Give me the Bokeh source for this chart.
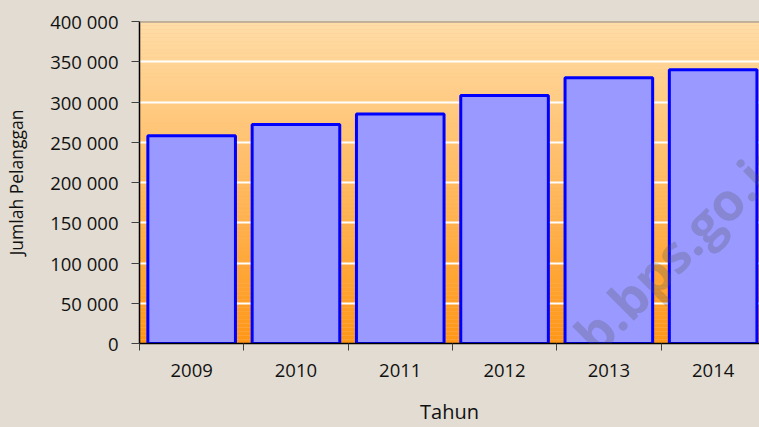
from bokeh.plotting import figure
from bokeh.models import Range1d, FixedTicker, Span, Label
from bokeh.embed import file_html
from bokeh.resources import INLINE

# ---- data ----
years = ["2009", "2010", "2011", "2012", "2013", "2014"]
pelanggan = [258000, 272000, 285000, 308000, 330000, 340000]
y_ticks = [0, 50000, 100000, 150000, 200000, 250000, 300000, 350000, 400000]

FONT = "Open Sans"
BG = "#E2DCD2"

x_pos = [i + 0.5 for i in range(len(years))]
visible_cats = 620 / 104.3

p = figure(width=759, height=427, output_backend="svg", toolbar_location=None,
           x_range=Range1d(0, visible_cats), y_range=Range1d(0, 400000),
           min_border_left=139, min_border_right=0, min_border_top=21,
           min_border_bottom=84)
p.border_fill_color = BG
p.background_fill_color = "#FFC080"
p.outline_line_color = None

# gradient background of plot area (decorative strips)
n = 80
top_c = (255, 221, 168)
bot_c = (255, 150, 22)
bottoms, tops, cols = [], [], []
for i in range(n):
    t = (i + 0.5) / n
    r = round(bot_c[0] + (top_c[0] - bot_c[0]) * t)
    g = round(bot_c[1] + (top_c[1] - bot_c[1]) * t)
    b = round(bot_c[2] + (top_c[2] - bot_c[2]) * t)
    cols.append("#%02x%02x%02x" % (r, g, b))
    bottoms.append(400000 * i / n)
    tops.append(400000 * (i + 1) / n)
strips = p.quad(left=-1, right=10, bottom=bottoms, top=tops, fill_color=cols,
                line_color=None)
strips.level = "image"

# bars
p.vbar(x=x_pos, top=pelanggan, width=0.84, bottom=0,
       fill_color="#9999FF", line_color="#0000FF", line_width=3)

# top border of plot area
p.add_layout(Span(location=400000, dimension="width", line_color="#8A8A8A",
                  line_width=2))

# axes
xa = p.xaxis[0]
xa.ticker = FixedTicker(ticks=x_pos, minor_ticks=list(range(len(years) + 1)))
xa.major_label_overrides = {x: y for x, y in zip(x_pos, years)}
xa.major_tick_out = 0
xa.major_tick_in = 0
xa.minor_tick_out = 7
xa.minor_tick_in = 0
xa.minor_tick_line_color = "#404040"
xa.axis_line_color = "black"
xa.axis_line_width = 1.5
xa.major_label_standoff = 13
xa.major_label_text_font = FONT
xa.major_label_text_font_size = "18.5px"
xa.major_label_text_color = "#111111"
xa.axis_label = "Tahun"
xa.axis_label_text_font = FONT
xa.axis_label_text_font_size = "20px"
xa.axis_label_text_font_style = "normal"
xa.axis_label_text_color = "#111111"
xa.axis_label_standoff = 18

ya = p.yaxis[0]
ya.ticker = FixedTicker(ticks=y_ticks)
ya.major_label_overrides = {v: f"{v:,}".replace(",", " ") for v in y_ticks}
ya.major_tick_out = 8
ya.major_tick_in = 0
ya.minor_tick_out = 0
ya.minor_tick_in = 0
ya.major_tick_line_color = "#404040"
ya.axis_line_color = "black"
ya.axis_line_width = 1.5
ya.major_label_standoff = 13
ya.major_label_text_font = FONT
ya.major_label_text_font_size = "18.5px"
ya.major_label_text_color = "#111111"
ya.axis_label = "Jumlah Pelanggan"
ya.axis_label_text_font = FONT
ya.axis_label_text_font_size = "17.5px"
ya.axis_label_text_font_style = "normal"
ya.axis_label_text_color = "#111111"
ya.axis_label_standoff = 19

p.xgrid.grid_line_color = None
p.ygrid.grid_line_color = "white"
p.ygrid.grid_line_width = 2

# faint diagonal watermark (anchored in data units)
p.add_layout(Label(x=3.586, y=-85000,
                   text="nkab.bps.go.id", angle=45, angle_units="deg",
                   text_font=FONT, text_font_size="52px",
                   text_baseline="alphabetic",
                   text_font_style="bold", text_color="#505050",
                   text_alpha=0.25, level="overlay"))

html = file_html(p, INLINE)
html = html.replace("<head>", "<head><style>body{background:%s;}</style>" % BG, 1)
open("out.html", "w").write(html)
